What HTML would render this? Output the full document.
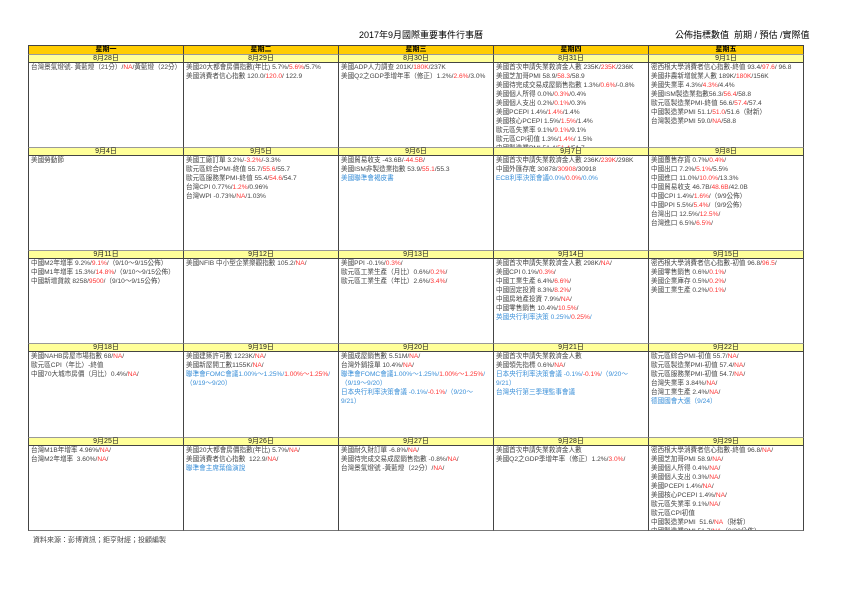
<!DOCTYPE html>
<html><head><meta charset="utf-8"><style>
*{margin:0;padding:0;box-sizing:border-box}
body{width:842px;height:595px;background:#fff;position:relative;font-family:"Liberation Sans","Noto Sans CJK TC",sans-serif;color:#333;overflow:hidden}
.t{position:absolute;font-size:9px;color:#000;white-space:nowrap}
.h{position:absolute;background:#FFCC00;border:1px solid #444;font-size:7px;line-height:7px;text-align:center;color:#000;font-weight:bold}
.d{position:absolute;background:#FFFF99;border:1px solid #444;border-top-color:#999;font-size:7px;line-height:7px;text-align:center;color:#222}
.c{position:absolute;border-left:1px solid #444;border-right:1px solid #444;font-size:6.6px;line-height:9px;padding:1px 0 0 2px;overflow:hidden;white-space:nowrap;color:#444}
.w{white-space:normal}
.r{color:#f33}.b{color:#3a8fd8}
</style></head><body>
<div class="t" style="left:359px;top:28px">2017年9月國際重要事件行事曆</div>
<div class="t" style="left:675px;top:28px">公佈指標數值&nbsp; 前期 / 預估 /實際值</div>

<div class="h" style="left:28px;top:45px;width:156px;height:10px">星期一</div>
<div class="h" style="left:183px;top:45px;width:156px;height:10px">星期二</div>
<div class="h" style="left:338px;top:45px;width:156px;height:10px">星期三</div>
<div class="h" style="left:493px;top:45px;width:156px;height:10px">星期四</div>
<div class="h" style="left:648px;top:45px;width:156px;height:10px">星期五</div>

<!-- row1 -->
<div class="d" style="left:28px;top:54px;width:156px;height:9px">8月28日</div>
<div class="d" style="left:183px;top:54px;width:156px;height:9px">8月29日</div>
<div class="d" style="left:338px;top:54px;width:156px;height:9px">8月30日</div>
<div class="d" style="left:493px;top:54px;width:156px;height:9px">8月31日</div>
<div class="d" style="left:648px;top:54px;width:156px;height:9px">9月1日</div>
<div class="c w" style="left:28px;top:62px;width:156px;height:86px">台灣景氣燈號- 黃藍燈（21分）/<span class="r">NA</span>/黃藍燈（22分）</div>
<div class="c" style="left:183px;top:62px;width:156px;height:86px">美國20大都會房價指數(年比) 5.7%/<span class="r">5.6%</span>/5.7%<br>美國消費者信心指數 120.0/<span class="r">120.0</span>/ 122.9</div>
<div class="c" style="left:338px;top:62px;width:156px;height:86px">美國ADP人力調查 201K/<span class="r">180K</span>/237K<br>美國Q2之GDP季增年率（修正）1.2%/<span class="r">2.6%</span>/3.0%</div>
<div class="c" style="left:493px;top:62px;width:156px;height:86px">美國首次申請失業救濟金人數 235K/<span class="r">235K</span>/236K<br>美國芝加哥PMI 58.9/<span class="r">58.3</span>/58.9<br>美國待完成交易成屋銷售指數 1.3%/<span class="r">0.6%</span>/-0.8%<br>美國個人所得 0.0%/<span class="r">0.3%</span>/0.4%<br>美國個人支出 0.2%/<span class="r">0.1%</span>/0.3%<br>美國PCEPI 1.4%/<span class="r">1.4%</span>/1.4%<br>美國核心PCEPI 1.5%/<span class="r">1.5%</span>/1.4%<br>歐元區失業率 9.1%/<span class="r">9.1%</span>/9.1%<br>歐元區CPI初值 1.3%/<span class="r">1.4%</span>/ 1.5%<br>中國製造業PMI 51.4/<span class="r">51.4</span>/51.7</div>
<div class="c" style="left:648px;top:62px;width:156px;height:86px">密西根大學消費者信心指數-終值 93.4/<span class="r">97.6</span>/ 96.8<br>美國非農新增就業人數 189K/<span class="r">180K</span>/156K<br>美國失業率 4.3%/<span class="r">4.3%</span>/4.4%<br>美國ISM製造業指數56.3/<span class="r">56.4</span>/58.8<br>歐元區製造業PMI-終值 56.6/<span class="r">57.4</span>/57.4<br>中國製造業PMI 51.1/<span class="r">51.0</span>/51.6（財新）<br>台灣製造業PMI 59.0/<span class="r">NA</span>/58.8</div>

<!-- row2 -->
<div class="d" style="left:28px;top:147px;width:156px;height:9px">9月4日</div>
<div class="d" style="left:183px;top:147px;width:156px;height:9px">9月5日</div>
<div class="d" style="left:338px;top:147px;width:156px;height:9px">9月6日</div>
<div class="d" style="left:493px;top:147px;width:156px;height:9px">9月7日</div>
<div class="d" style="left:648px;top:147px;width:156px;height:9px">9月8日</div>
<div class="c" style="left:28px;top:155px;width:156px;height:96px">美國勞動節</div>
<div class="c" style="left:183px;top:155px;width:156px;height:96px">美國工廠訂單 3.2%/<span class="r">-3.2%</span>/-3.3%<br>歐元區綜合PMI-終值 55.7/<span class="r">55.6</span>/55.7<br>歐元區服務業PMI-終值 55.4/<span class="r">54.6</span>/54.7<br>台灣CPI 0.77%/<span class="r">1.2%</span>/0.96%<br>台灣WPI -0.73%/<span class="r">NA</span>/1.03%</div>
<div class="c" style="left:338px;top:155px;width:156px;height:96px">美國貿易收支 -43.6B/<span class="r">-44.5B</span>/<br>美國ISM非製造業指數 53.9/<span class="r">55.1</span>/55.3<br><span class="b">美國聯準會褐皮書</span></div>
<div class="c" style="left:493px;top:155px;width:156px;height:96px">美國首次申請失業救濟金人數 236K/<span class="r">239K</span>/298K<br>中國外匯存底 30878/<span class="r">30908</span>/30918<br><span class="b">ECB利率決策會議0.0%/</span><span class="r">0.0%</span><span class="b">/0.0%</span></div>
<div class="c" style="left:648px;top:155px;width:156px;height:96px">美國躉售存貨 0.7%/<span class="r">0.4%</span>/<br>中國出口 7.2%/<span class="r">5.1%</span>/5.5%<br>中國進口 11.0%/<span class="r">10.0%</span>/13.3%<br>中國貿易收支 46.7B/<span class="r">48.6B</span>/42.0B<br>中國CPI 1.4%/<span class="r">1.6%</span>/（9/9公佈）<br>中國PPI 5.5%/<span class="r">5.4%</span>/（9/9公佈）<br>台灣出口 12.5%/<span class="r">12.5%</span>/<br>台灣進口 6.5%/<span class="r">6.5%</span>/</div>

<!-- row3 -->
<div class="d" style="left:28px;top:250px;width:156px;height:9px">9月11日</div>
<div class="d" style="left:183px;top:250px;width:156px;height:9px">9月12日</div>
<div class="d" style="left:338px;top:250px;width:156px;height:9px">9月13日</div>
<div class="d" style="left:493px;top:250px;width:156px;height:9px">9月14日</div>
<div class="d" style="left:648px;top:250px;width:156px;height:9px">9月15日</div>
<div class="c" style="left:28px;top:258px;width:156px;height:86px">中國M2年增率 9.2%/<span class="r">9.1%</span>/（9/10～9/15公佈）<br>中國M1年增率 15.3%/<span class="r">14.8%</span>/（9/10～9/15公佈）<br>中國新增貸款 8258/<span class="r">9500</span>/（9/10～9/15公佈）</div>
<div class="c" style="left:183px;top:258px;width:156px;height:86px">美國NFIB 中小型企業樂觀指數 105.2/<span class="r">NA</span>/</div>
<div class="c" style="left:338px;top:258px;width:156px;height:86px">美國PPI -0.1%/<span class="r">0.3%</span>/<br>歐元區工業生產（月比）0.6%/<span class="r">0.2%</span>/<br>歐元區工業生產（年比）2.6%/<span class="r">3.4%</span>/</div>
<div class="c" style="left:493px;top:258px;width:156px;height:86px">美國首次申請失業救濟金人數 298K/<span class="r">NA</span>/<br>美國CPI 0.1%/<span class="r">0.3%</span>/<br>中國工業生產 6.4%/<span class="r">6.6%</span>/<br>中國固定投資 8.3%/<span class="r">8.2%</span>/<br>中國房地產投資 7.9%/<span class="r">NA</span>/<br>中國零售銷售 10.4%/<span class="r">10.5%</span>/<br><span class="b">英國央行利率決策 0.25%/</span><span class="r">0.25%</span><span class="b">/</span></div>
<div class="c" style="left:648px;top:258px;width:156px;height:86px">密西根大學消費者信心指數-初值 96.8/<span class="r">96.5</span>/<br>美國零售銷售 0.6%/<span class="r">0.1%</span>/<br>美國企業庫存 0.5%/<span class="r">0.2%</span>/<br>美國工業生產 0.2%/<span class="r">0.1%</span>/</div>

<!-- row4 -->
<div class="d" style="left:28px;top:343px;width:156px;height:9px">9月18日</div>
<div class="d" style="left:183px;top:343px;width:156px;height:9px">9月19日</div>
<div class="d" style="left:338px;top:343px;width:156px;height:9px">9月20日</div>
<div class="d" style="left:493px;top:343px;width:156px;height:9px">9月21日</div>
<div class="d" style="left:648px;top:343px;width:156px;height:9px">9月22日</div>
<div class="c" style="left:28px;top:351px;width:156px;height:87px">美國NAHB房屋市場指數 68/<span class="r">NA</span>/<br>歐元區CPI（年比）-終值<br>中國70大城市房價（月比）0.4%/<span class="r">NA</span>/</div>
<div class="c" style="left:183px;top:351px;width:156px;height:87px">美國建築許可數 1223K/<span class="r">NA</span>/<br>美國新屋開工數1155K/<span class="r">NA</span>/<br><span class="b">聯準會FOMC會議1.00%～1.25%/</span><span class="r">1.00%～1.25%</span><span class="b">/</span><br><span class="b">（9/19～9/20）</span></div>
<div class="c" style="left:338px;top:351px;width:156px;height:87px">美國成屋銷售數 5.51M/<span class="r">NA</span>/<br>台灣外銷接單 10.4%/<span class="r">NA</span>/<br><span class="b">聯準會FOMC會議1.00%～1.25%/</span><span class="r">1.00%～1.25%</span><span class="b">/</span><br><span class="b">（9/19～9/20）</span><br><span class="b">日本央行利率決策會議 -0.1%/</span><span class="r">-0.1%</span><span class="b">/（9/20～</span><br><span class="b">9/21）</span></div>
<div class="c" style="left:493px;top:351px;width:156px;height:87px">美國首次申請失業救濟金人數<br>美國領先指標 0.6%/<span class="r">NA</span>/<br><span class="b">日本央行利率決策會議 -0.1%/</span><span class="r">-0.1%</span><span class="b">/（9/20～</span><br><span class="b">9/21）</span><br><span class="b">台灣央行第三季理監事會議</span></div>
<div class="c" style="left:648px;top:351px;width:156px;height:87px">歐元區綜合PMI-初值 55.7/<span class="r">NA</span>/<br>歐元區製造業PMI-初值 57.4/<span class="r">NA</span>/<br>歐元區服務業PMI-初值 54.7/<span class="r">NA</span>/<br>台灣失業率 3.84%/<span class="r">NA</span>/<br>台灣工業生產 2.4%/<span class="r">NA</span>/<br><span class="b">德國國會大選（9/24）</span></div>

<!-- row5 -->
<div class="d" style="left:28px;top:437px;width:156px;height:9px">9月25日</div>
<div class="d" style="left:183px;top:437px;width:156px;height:9px">9月26日</div>
<div class="d" style="left:338px;top:437px;width:156px;height:9px">9月27日</div>
<div class="d" style="left:493px;top:437px;width:156px;height:9px">9月28日</div>
<div class="d" style="left:648px;top:437px;width:156px;height:9px">9月29日</div>
<div class="c" style="left:28px;top:445px;width:156px;height:86px;border-bottom:1px solid #777">台灣M1B年增率 4.96%/<span class="r">NA</span>/<br>台灣M2年增率&nbsp; 3.60%/<span class="r">NA</span>/</div>
<div class="c" style="left:183px;top:445px;width:156px;height:86px;border-bottom:1px solid #777">美國20大都會房價指數(年比) 5.7%/<span class="r">NA</span>/<br>美國消費者信心指數&nbsp; 122.9/<span class="r">NA</span>/<br><span class="b">聯準會主席葉倫演說</span></div>
<div class="c" style="left:338px;top:445px;width:156px;height:86px;border-bottom:1px solid #777">美國耐久財訂單 -6.8%/<span class="r">NA</span>/<br>美國待完成交易成屋銷售指數 -0.8%/<span class="r">NA</span>/<br>台灣景氣燈號 -黃藍燈（22分）/<span class="r">NA</span>/</div>
<div class="c" style="left:493px;top:445px;width:156px;height:86px;border-bottom:1px solid #777">美國首次申請失業救濟金人數<br>美國Q2之GDP季增年率（修正）1.2%/<span class="r">3.0%</span>/</div>
<div class="c" style="left:648px;top:445px;width:156px;height:86px;border-bottom:1px solid #777">密西根大學消費者信心指數-終值 96.8/<span class="r">NA</span>/<br>美國芝加哥PMI 58.9/<span class="r">NA</span>/<br>美國個人所得 0.4%/<span class="r">NA</span>/<br>美國個人支出 0.3%/<span class="r">NA</span>/<br>美國PCEPI 1.4%/<span class="r">NA</span>/<br>美國核心PCEPI 1.4%/<span class="r">NA</span>/<br>歐元區失業率 9.1%/<span class="r">NA</span>/<br>歐元區CPI初值<br>中國製造業PMI&nbsp; 51.6/<span class="r">NA</span>（財新）<br>中國製造業PMI 51.7/<span class="r">NA</span>（9/30公佈）</div>

<div class="t" style="left:33px;top:535px;font-size:7px;color:#444">資料來源：彭博資訊；鉅亨財經；投顧編製</div>
</body></html>
